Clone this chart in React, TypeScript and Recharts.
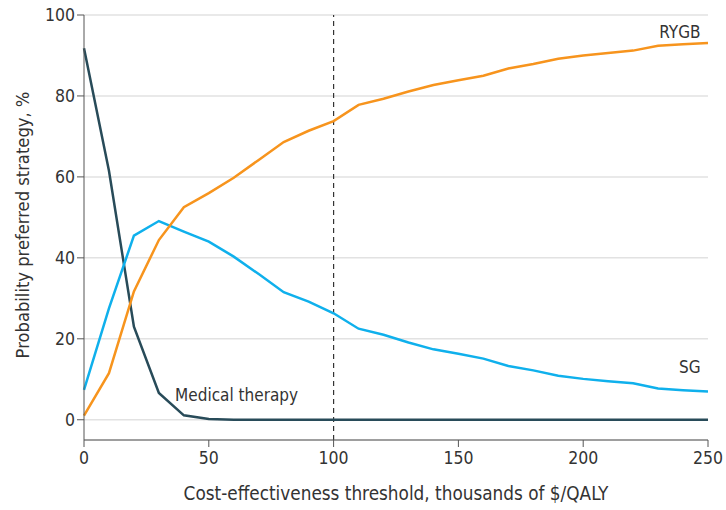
import { LineChart, Line, XAxis, YAxis, CartesianGrid, ReferenceLine, ReferenceDot, Label } from "recharts";

const thresholds = [0, 10, 20, 30, 40, 50, 60, 70, 80, 90, 100, 110, 120, 130, 140, 150, 160, 170, 180, 190, 200, 210, 220, 230, 240, 250];
const rygb = [1.0, 11.5, 31.7, 44.4, 52.5, 56.0, 59.8, 64.2, 68.6, 71.4, 73.8, 77.8, 79.3, 81.1, 82.7, 83.9, 85.0, 86.8, 87.9, 89.2, 90.0, 90.6, 91.2, 92.4, 92.8, 93.1];
const sg = [7.4, 27.5, 45.5, 49.1, 46.5, 44.0, 40.3, 36.0, 31.5, 29.2, 26.3, 22.5, 21.0, 19.1, 17.4, 16.3, 15.1, 13.3, 12.2, 10.9, 10.1, 9.5, 9.0, 7.7, 7.3, 7.0];
const medical = [91.8, 61.5, 23.0, 6.6, 1.1, 0.2, 0, 0, 0, 0, 0, 0, 0, 0, 0, 0, 0, 0, 0, 0, 0, 0, 0, 0, 0, 0];
const xTicks = [0, 50, 100, 150, 200, 250];
const yTicks = [0, 20, 40, 60, 80, 100];

const data = thresholds.map((x, i) => ({ x, rygb: rygb[i], sg: sg[i], medical: medical[i] }));

const FONT = "'Liberation Sans Narrow', 'DejaVu Sans Condensed', 'Noto Sans', sans-serif";
const TEXT = "#333";

const SeriesLabel = ({ viewBox, text, anchor }: any) => {
  const cx = viewBox.x + viewBox.width / 2;
  const cy = viewBox.y + viewBox.height / 2;
  return (
    <text x={cx} y={cy} textAnchor={anchor} dominantBaseline="central" fill={TEXT} fontSize={17} fontFamily={FONT}>
      {text}
    </text>
  );
};

const YTitle = () => (
  <text x={22} y={225} transform="rotate(-90 22 225)" textAnchor="middle" dominantBaseline="central" fill={TEXT} fontSize={18.2} fontFamily={FONT}>
    Probability preferred strategy, %
  </text>
);

export default function App() {
  return (
    <div style={{ position: "absolute", left: 0, top: 0, background: "#fff" }}>
      <LineChart width={726} height={510} data={data} margin={{ top: 15, right: 18, left: 0, bottom: 0 }}>
        <CartesianGrid vertical={false} stroke="#e2e2e2" strokeWidth={1.5} />
        <XAxis
          dataKey="x"
          type="number"
          domain={[0, 250]}
          ticks={xTicks}
          height={70}
          tickSize={7}
          tickMargin={5}
          stroke="#555"
          tick={{ fill: TEXT, fontSize: 17.5, fontFamily: FONT }}
        >
          <Label
            value="Cost-effectiveness threshold, thousands of $/QALY"
            position="insideBottom"
            offset={10}
            fill={TEXT}
            fontSize={18.8}
            fontFamily={FONT}
          />
        </XAxis>
        <YAxis
          type="number"
          domain={[-5, 100]}
          ticks={yTicks}
          width={84}
          tickSize={7}
          stroke="#555"
          tick={{ fill: TEXT, fontSize: 17.5, fontFamily: FONT }}
        >
          <Label content={<YTitle />} />
        </YAxis>
        <ReferenceLine x={100} stroke="#333" strokeDasharray="5 4" strokeWidth={1.2} />
        <Line dataKey="medical" stroke="#284b59" strokeWidth={2.5} dot={false} isAnimationActive={false} />
        <Line dataKey="sg" stroke="#0fb0ec" strokeWidth={2.5} dot={false} isAnimationActive={false} />
        <Line dataKey="rygb" stroke="#f7941d" strokeWidth={2.5} dot={false} isAnimationActive={false} />
        <ReferenceDot x={247} y={95.8} r={0} fill="none" stroke="none" label={<SeriesLabel text="RYGB" anchor="end" />} />
        <ReferenceDot x={247} y={13.1} r={0} fill="none" stroke="none" label={<SeriesLabel text="SG" anchor="end" />} />
        <ReferenceDot x={36.5} y={6.2} r={0} fill="none" stroke="none" label={<SeriesLabel text="Medical therapy" anchor="start" />} />
      </LineChart>
    </div>
  );
}
